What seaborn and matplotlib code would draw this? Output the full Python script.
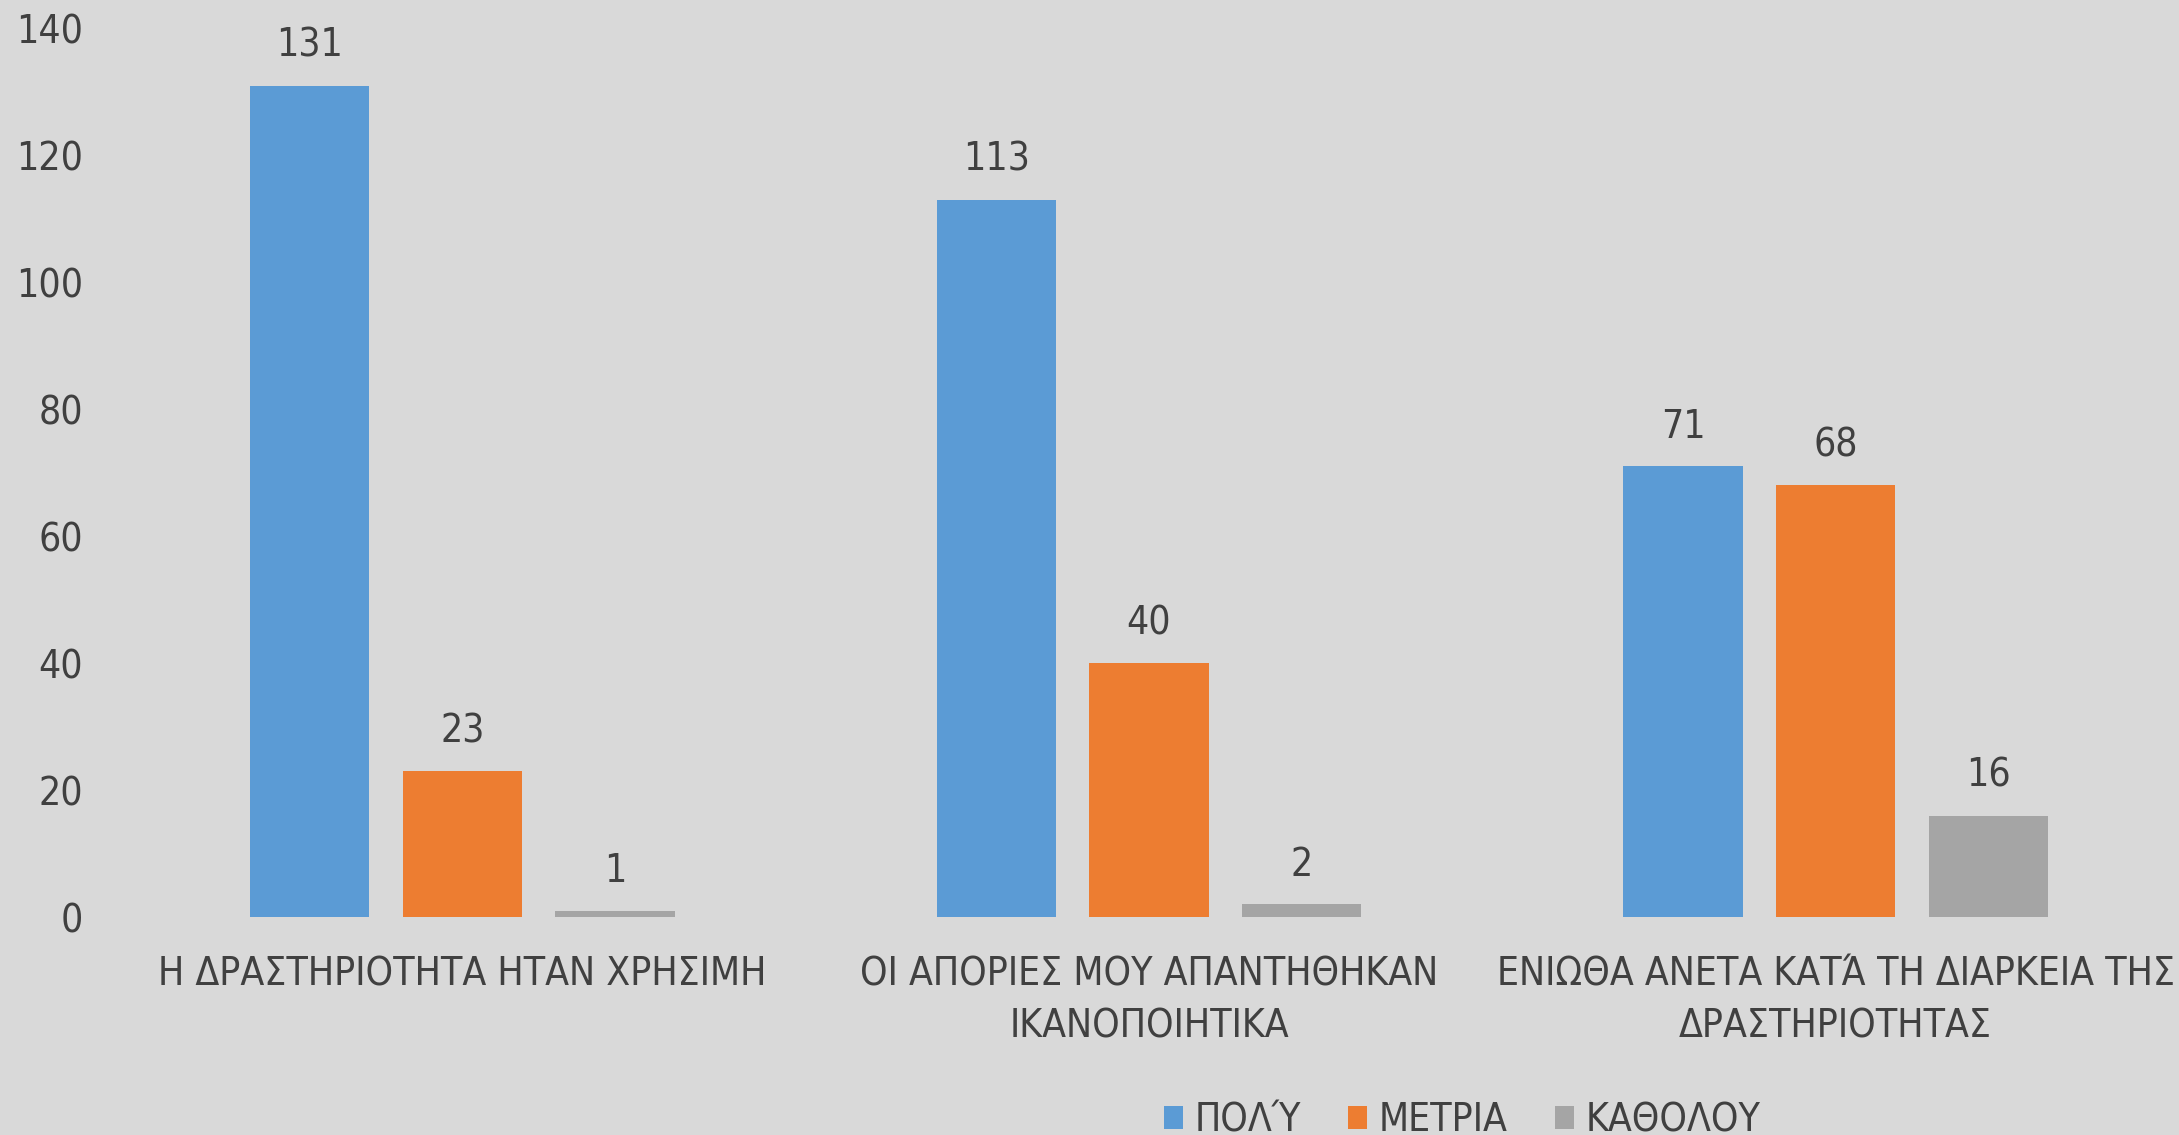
import matplotlib
matplotlib.use("Agg")
import matplotlib.pyplot as plt
import seaborn as sns
import pandas as pd

# ---------- DATA ----------
categories = [
    "Η ΔΡΑΣΤΗΡΙΟΤΗΤΑ ΗΤΑΝ ΧΡΗΣΙΜΗ",
    "ΟΙ ΑΠΟΡΙΕΣ ΜΟΥ ΑΠΑΝΤΗΘΗΚΑΝ\nΙΚΑΝΟΠΟΙΗΤΙΚΑ",
    "ΕΝΙΩΘΑ ΑΝΕΤΑ ΚΑΤΆ ΤΗ ΔΙΑΡΚΕΙΑ ΤΗΣ\nΔΡΑΣΤΗΡΙΟΤΗΤΑΣ",
]
series = ["ΠΟΛΎ", "ΜΕΤΡΙΑ", "ΚΑΘΟΛΟΥ"]
poly = [131, 113, 71]
metria = [23, 40, 68]
katholou = [1, 2, 16]
yticks = [0, 20, 40, 60, 80, 100, 120, 140]

colors = ["#5b9bd5", "#ed7d31", "#a5a5a5"]
bg = "#d9d9d9"
txt = "#404040"

rows = []
for name, vals in zip(series, [poly, metria, katholou]):
    for c, v in zip(categories, vals):
        rows.append({"cat": c, "series": name, "value": v})
df = pd.DataFrame(rows)

# ---------- PLOT ----------
sns.set_style("white")
plt.rcParams["font.family"] = ["DejaVu Sans"]
plt.rcParams["font.stretch"] = "condensed"

fig = plt.figure(figsize=(21.79, 11.35), dpi=100)
fig.patch.set_facecolor(bg)
ax = fig.add_axes([0.0546, 0.192, 0.9454, 0.783])
ax.set_facecolor(bg)

sns.barplot(data=df, x="cat", y="value", hue="series", order=categories,
            hue_order=series, palette=colors, width=0.667, gap=0.22,
            saturation=1, linewidth=0, ax=ax)

for cont in ax.containers:
    ax.bar_label(cont, padding=15, fontsize=28, color=txt)

ax.set_ylim(0, 140)
ax.set_xlim(-0.5, 2.5)
ax.set_yticks(yticks)
ax.tick_params(axis="y", length=0, labelsize=28, labelcolor=txt, pad=26)
ax.tick_params(axis="x", length=0, labelsize=28, labelcolor=txt, pad=28)
for lbl in ax.get_xticklabels():
    lbl.set_linespacing(1.45)
ax.set_xlabel("")
ax.set_ylabel("")
for s in ax.spines.values():
    s.set_visible(False)

handles, labels = ax.get_legend_handles_labels()
ax.legend_.remove()
fig.legend(handles, labels, loc="center", bbox_to_anchor=(0.671, 0.013),
           ncol=3, frameon=False, fontsize=28, labelcolor=txt,
           handlelength=0.5, handleheight=0.5, handletextpad=0.3,
           columnspacing=1.2)

fig.savefig("out.png", dpi=100, facecolor=bg)
